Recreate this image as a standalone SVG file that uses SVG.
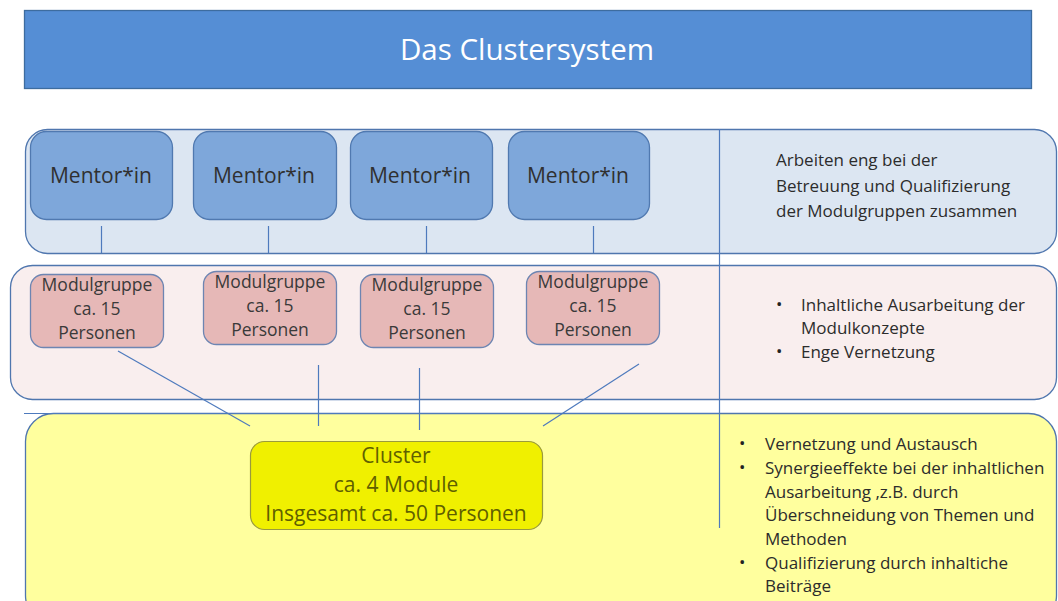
<svg xmlns="http://www.w3.org/2000/svg" width="1058" height="601" viewBox="0 0 1058 601">
  <style>
    text { font-family: "Open Sans", "Liberation Sans", sans-serif; }
    .panel { stroke: #4f76ae; stroke-width: 1.3; }
    .mentor { fill: #7ea7da; stroke: #5079b0; stroke-width: 1.3; }
    .modul { fill: #e6b8b7; stroke: #6d85b2; stroke-width: 1.3; }
    .lbl { fill: #303030; text-anchor: middle; font-size: 21px; }
    .ml { font-size: 17.5px; fill: #3a3a3a; text-anchor: middle; }
    .note { font-size: 17px; fill: #2c2c2c; }
    .bul { font-size: 17px; fill: #222222; }
    .conn { stroke: #4e7abd; stroke-width: 1.2; fill: none; }
  </style>

  <!-- title bar -->
  <g id="title">
    <rect x="24.5" y="10.5" width="1007" height="78" fill="#558ed5" stroke="#3d6c9f" stroke-width="1.3"/>
    <text x="527" y="60" font-size="29.5" fill="#ffffff" text-anchor="middle">Das Clustersystem</text>
  </g>

  <!-- background bands -->
  <g id="mentor-band">
    <rect class="panel" x="25.5" y="129.5" width="1031" height="124" rx="22" fill="#dce6f2"/>
    <text class="note" x="776" y="166">Arbeiten eng bei der</text>
    <text class="note" x="776" y="192">Betreuung und Qualifizierung</text>
    <text class="note" x="776" y="217">der Modulgruppen zusammen</text>
  </g>
  <g id="modul-band">
    <rect class="panel" x="10.5" y="265.5" width="1046" height="134" rx="22" fill="#f9eeee"/>
    <text class="bul" x="776" y="310">•</text>
    <text class="note" x="801" y="311">Inhaltliche Ausarbeitung der</text>
    <text class="note" x="801" y="334">Modulkonzepte</text>
    <text class="bul" x="776" y="357">•</text>
    <text class="note" x="801" y="358">Enge Vernetzung</text>
  </g>
  <g id="cluster-band">
    <rect class="panel" x="25.5" y="413.5" width="1031" height="210" rx="28" fill="#ffff9e"/>
    <text class="bul" x="739" y="449">•</text>
    <text class="note" x="765" y="450">Vernetzung und Austausch</text>
    <text class="bul" x="739" y="473">•</text>
    <text class="note" x="765" y="474">Synergieeffekte bei der inhaltlichen</text>
    <text class="note" x="765" y="498">Ausarbeitung ,z.B. durch</text>
    <text class="note" x="765" y="521">Überschneidung von Themen und</text>
    <text class="note" x="765" y="545">Methoden</text>
    <text class="bul" x="739" y="568">•</text>
    <text class="note" x="765" y="569">Qualifizierung durch inhaltiche</text>
    <text class="note" x="765" y="592">Beiträge</text>
  </g>

  <!-- mentors -->
  <g id="mentor1">
    <rect class="mentor" x="30.5" y="131.5" width="142" height="88" rx="16"/>
    <text class="lbl" x="101" y="183">Mentor*in</text>
  </g>
  <g id="mentor2">
    <rect class="mentor" x="193.5" y="131.5" width="143" height="88" rx="16"/>
    <text class="lbl" x="264" y="183">Mentor*in</text>
  </g>
  <g id="mentor3">
    <rect class="mentor" x="350.5" y="131.5" width="142" height="88" rx="16"/>
    <text class="lbl" x="420" y="183">Mentor*in</text>
  </g>
  <g id="mentor4">
    <rect class="mentor" x="508.5" y="131.5" width="141" height="88" rx="16"/>
    <text class="lbl" x="578" y="183">Mentor*in</text>
  </g>

  <!-- module groups -->
  <g id="modul1">
    <rect class="modul" x="30.5" y="274.5" width="133" height="73" rx="13"/>
    <text class="ml" x="97" y="291">Modulgruppe</text>
    <text class="ml" x="97" y="315">ca. 15</text>
    <text class="ml" x="97" y="339">Personen</text>
  </g>
  <g id="modul2">
    <rect class="modul" x="203.5" y="271.5" width="133" height="73" rx="13"/>
    <text class="ml" x="270" y="288">Modulgruppe</text>
    <text class="ml" x="270" y="312">ca. 15</text>
    <text class="ml" x="270" y="336">Personen</text>
  </g>
  <g id="modul3">
    <rect class="modul" x="360.5" y="274.5" width="133" height="73" rx="13"/>
    <text class="ml" x="427" y="291">Modulgruppe</text>
    <text class="ml" x="427" y="315">ca. 15</text>
    <text class="ml" x="427" y="339">Personen</text>
  </g>
  <g id="modul4">
    <rect class="modul" x="526.5" y="271.5" width="133" height="73" rx="13"/>
    <text class="ml" x="593" y="288">Modulgruppe</text>
    <text class="ml" x="593" y="312">ca. 15</text>
    <text class="ml" x="593" y="336">Personen</text>
  </g>

  <!-- cluster -->
  <g id="cluster">
    <rect x="250.5" y="441.5" width="292" height="88" rx="14" fill="#f0f000" stroke="#9a9a3c" stroke-width="1.2"/>
    <text x="396" y="463" font-size="21" fill="#5f5f00" text-anchor="middle">Cluster</text>
    <text x="396" y="492" font-size="21" fill="#5f5f00" text-anchor="middle">ca. 4 Module</text>
    <text x="396" y="521" font-size="21" fill="#5f5f00" text-anchor="middle">Insgesamt ca. 50 Personen</text>
  </g>

  <!-- connectors and dividers -->
  <g id="connectors">
    <line class="conn" x1="719.5" y1="129" x2="719.5" y2="528"/>
    <line class="conn" x1="24" y1="413.5" x2="720" y2="413.5"/>
    <line class="conn" x1="101.5" y1="226" x2="101.5" y2="253"/>
    <line class="conn" x1="268.5" y1="226" x2="268.5" y2="253"/>
    <line class="conn" x1="426.5" y1="226" x2="426.5" y2="253"/>
    <line class="conn" x1="593.5" y1="226" x2="593.5" y2="253"/>
    <line class="conn" x1="118" y1="351" x2="250" y2="426"/>
    <line class="conn" x1="318.5" y1="365" x2="318.5" y2="426"/>
    <line class="conn" x1="419.5" y1="368" x2="419.5" y2="430"/>
    <line class="conn" x1="639" y1="364" x2="543" y2="426"/>
  </g>
</svg>
